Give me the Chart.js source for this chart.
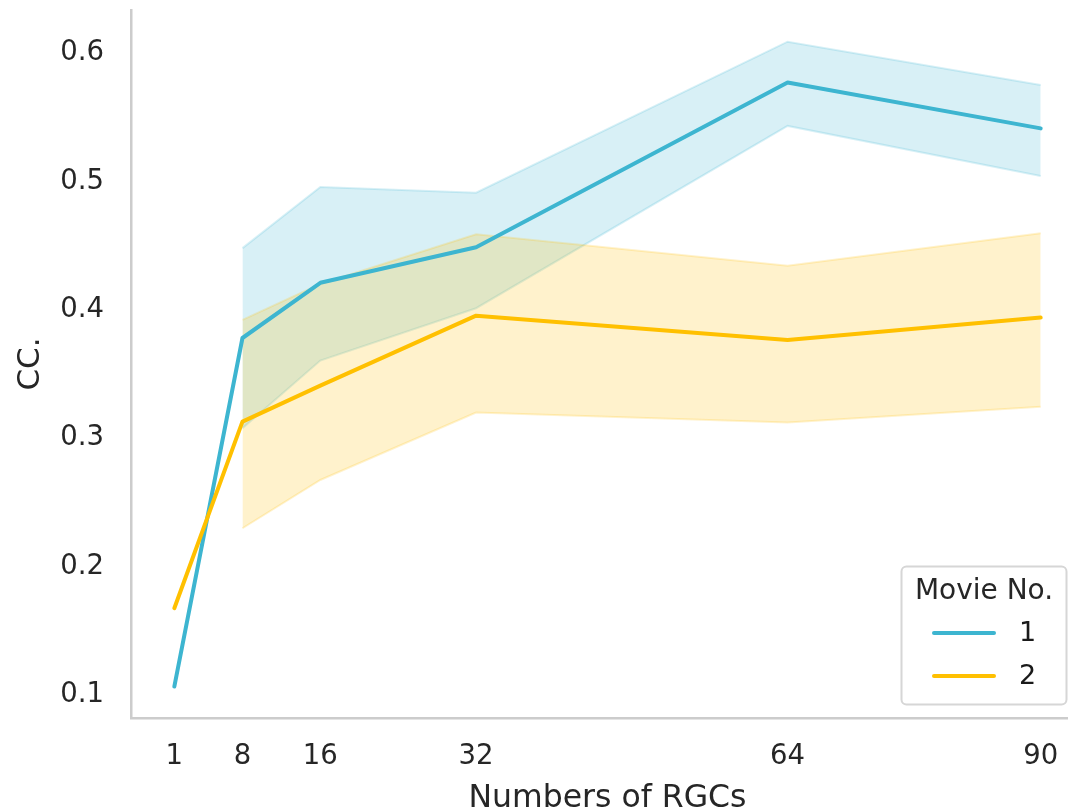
<!DOCTYPE html>
<html>
<head>
<meta charset="utf-8">
<script src="https://cdn.jsdelivr.net/npm/chart.js@4/dist/chart.umd.min.js"></script>
<style>
  html, body { margin: 0; padding: 0; background: #ffffff; overflow: hidden; }
  #wrap { width: 1068px; height: 812px; overflow: hidden; position: relative; }
  #c { position: absolute; left: 0; top: 0; }
</style>
</head>
<body>
<div id="wrap"><canvas id="c" width="1100" height="812"></canvas></div>
<script>
// ---- data ----
const numRGCs = [1, 8, 16, 32, 64, 90];
const xTickValues = [1, 8, 16, 32, 64, 90];
const yTickValues = [0.1, 0.2, 0.3, 0.4, 0.5, 0.6];

const movie1Mean  = [0.1065, 0.378, 0.421, 0.4487, 0.577, 0.5413];
const movie1Upper = [null, 0.448, 0.4956, 0.4912, 0.6088, 0.5751];
const movie1Lower = [null, 0.3077, 0.3604, 0.4012, 0.5432, 0.5042];

const movie2Mean  = [0.1675, 0.3129, 0.3409, 0.3954, 0.3765, 0.3939];
const movie2Upper = [null, 0.3921, 0.4201, 0.4588, 0.4343, 0.4596];
const movie2Lower = [null, 0.2298, 0.2674, 0.3199, 0.3121, 0.3245];

const seriesLabels = ['1', '2'];
const legendTitle = 'Movie No.';
const xTitle = 'Numbers of RGCs';
const yTitle = 'CC.';

// ---- styling ----
const BLUE = '#3db5d0';
const ORANGE = '#ffc000';
const BLUE_A = 'rgba(61,181,208,0.2)';
const ORANGE_A = 'rgba(255,192,0,0.2)';
const TEXT = '#262626';
const SPINE = '#cccccc';
const FONT = '"DejaVu Sans", "Liberation Sans", sans-serif';

function pts(ys) {
  return numRGCs.map((x, i) => ({ x: x, y: ys[i] })).filter(p => p.y !== null);
}

const legendPlugin = {
  id: 'boxLegend',
  afterDraw(chart) {
    const ctx = chart.ctx;
    ctx.save();
    const bx = 901.5, by = 566.5, bw = 165, bh = 138, r = 5;
    ctx.beginPath();
    ctx.moveTo(bx + r, by);
    ctx.lineTo(bx + bw - r, by);
    ctx.arcTo(bx + bw, by, bx + bw, by + r, r);
    ctx.lineTo(bx + bw, by + bh - r);
    ctx.arcTo(bx + bw, by + bh, bx + bw - r, by + bh, r);
    ctx.lineTo(bx + r, by + bh);
    ctx.arcTo(bx, by + bh, bx, by + bh - r, r);
    ctx.lineTo(bx, by + r);
    ctx.arcTo(bx, by, bx + r, by, r);
    ctx.closePath();
    ctx.fillStyle = 'rgba(255,255,255,0.9)';
    ctx.fill();
    ctx.lineWidth = 2;
    ctx.strokeStyle = '#d6d6d6';
    ctx.stroke();

    ctx.fillStyle = TEXT;
    ctx.font = '28px ' + FONT;
    ctx.textAlign = 'center';
    ctx.textBaseline = 'middle';
    ctx.fillText(legendTitle, 984, 592);

    const colors = [BLUE, ORANGE];
    const ys = [633, 676];
    for (let i = 0; i < seriesLabels.length; i++) {
      ctx.beginPath();
      ctx.moveTo(934, ys[i]);
      ctx.lineTo(994, ys[i]);
      ctx.lineWidth = 4;
      ctx.lineCap = 'round';
      ctx.strokeStyle = colors[i];
      ctx.stroke();
      ctx.fillStyle = '#1a1a1a';
      ctx.font = '27px ' + FONT;
      ctx.textAlign = 'left';
      ctx.fillText(seriesLabels[i], 1019, ys[i] + 1);
    }
    ctx.restore();
  }
};

const lineCommon = {
  pointRadius: 0,
  pointHoverRadius: 0,
  borderWidth: 4,
  tension: 0,
  borderCapStyle: 'round',
  borderJoinStyle: 'round',
  fill: false
};
const bandCommon = {
  pointRadius: 0,
  pointHoverRadius: 0,
  borderWidth: 2,
  tension: 0
};

function zeroPad(scale) {
  scale.paddingTop = 0;
  scale.paddingBottom = 0;
  scale.paddingLeft = 0;
  scale.paddingRight = 0;
}

new Chart(document.getElementById('c'), {
  type: 'line',
  data: {
    datasets: [
      Object.assign({ label: seriesLabels[0], data: pts(movie1Mean), borderColor: BLUE, order: 1 }, lineCommon),
      Object.assign({ label: seriesLabels[1], data: pts(movie2Mean), borderColor: ORANGE, order: 0 }, lineCommon),
      Object.assign({ label: 'b1u', data: pts(movie1Upper), borderColor: BLUE_A, backgroundColor: BLUE_A, fill: 3, order: 3 }, bandCommon),
      Object.assign({ label: 'b1l', data: pts(movie1Lower), borderColor: BLUE_A, fill: false, order: 3 }, bandCommon),
      Object.assign({ label: 'b2u', data: pts(movie2Upper), borderColor: ORANGE_A, backgroundColor: ORANGE_A, fill: 5, order: 2 }, bandCommon),
      Object.assign({ label: 'b2l', data: pts(movie2Lower), borderColor: ORANGE_A, fill: false, order: 2 }, bandCommon)
    ]
  },
  options: {
    responsive: false,
    animation: false,
    events: [],
    layout: { padding: { top: 10, right: 16, left: 0, bottom: 0 } },
    plugins: {
      legend: { display: false },
      tooltip: { enabled: false }
    },
    scales: {
      x: {
        type: 'linear',
        min: -3.45,
        max: 94.45,
        grid: { display: false, drawTicks: false },
        border: { display: true, color: SPINE, width: 2.5 },
        afterFit(scale) { scale.height = 94; zeroPad(scale); },
        afterBuildTicks(scale) { scale.ticks = xTickValues.map(v => ({ value: v })); },
        ticks: {
          padding: 22,
          color: TEXT,
          font: { family: FONT, size: 27.5 },
          maxRotation: 0,
          autoSkip: false,
          callback: v => String(v)
        },
        title: {
          display: true,
          text: xTitle,
          color: TEXT,
          font: { family: FONT, size: 31.5, lineHeight: 1 },
          padding: { top: 0, bottom: -3 }
        }
      },
      y: {
        type: 'linear',
        min: 0.082,
        max: 0.6335,
        grid: { display: false, drawTicks: false },
        border: { display: true, color: SPINE, width: 2.5 },
        afterFit(scale) { scale.width = 131; zeroPad(scale); },
        afterBuildTicks(scale) { scale.ticks = yTickValues.map(v => ({ value: v })); },
        ticks: {
          padding: 27,
          color: TEXT,
          font: { family: FONT, size: 27.5 },
          autoSkip: false,
          callback: v => v.toFixed(1)
        },
        title: {
          display: true,
          text: yTitle,
          color: TEXT,
          font: { family: FONT, size: 31, lineHeight: 1 },
          padding: { top: 15, bottom: 0 }
        }
      }
    }
  },
  plugins: [legendPlugin]
});
</script>
</body>
</html>
